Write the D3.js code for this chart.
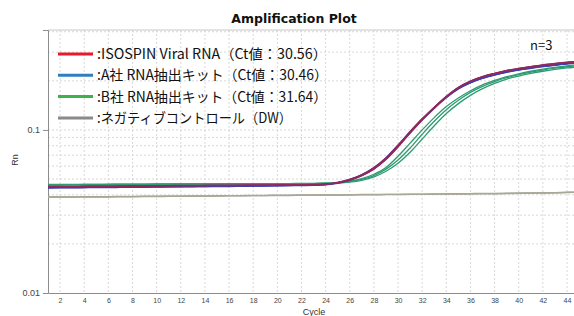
<!DOCTYPE html>
<html>
<head>
<meta charset="utf-8">
<script src="https://cdn.jsdelivr.net/npm/d3@7"></script>
<style>
  body { margin: 0; background: #fff; }
  svg { display: block; font-family: "Noto Sans CJK JP", "Noto Sans", sans-serif; }
</style>
</head>
<body>
<div id="chart"></div>
<script>
const svgWidth = 574;
const svgHeight = 316;

// cycles 1..45
const cycles = d3.range(1, 46);
const xTicks = d3.range(2, 46, 2);
const yTicks = [0.01, 0.1];

// ISOSPIN Viral RNA, 3 replicates
const redRep1 = [0.0450,0.0450,0.0451,0.0451,0.0452,0.0452,0.0453,0.0453,0.0454,0.0454,
  0.0455,0.0455,0.0456,0.0456,0.0457,0.0457,0.0458,0.0458,0.0459,0.0459,
  0.0460,0.0461,0.0462,0.0465,0.0475,0.0495,0.0528,0.0580,0.0665,0.0795,
  0.0965,0.1160,0.1370,0.1600,0.1820,0.1990,0.2120,0.2220,0.2310,0.2380,
  0.2440,0.2500,0.2550,0.2595,0.2630];
const redRep2 = [0.0452,0.0452,0.0452,0.0453,0.0453,0.0454,0.0454,0.0455,0.0455,0.0456,
  0.0456,0.0457,0.0457,0.0458,0.0458,0.0459,0.0459,0.0460,0.0460,0.0461,
  0.0461,0.0462,0.0463,0.0466,0.0477,0.0497,0.0531,0.0585,0.0672,0.0805,
  0.0975,0.1170,0.1380,0.1610,0.1828,0.1995,0.2125,0.2225,0.2315,0.2385,
  0.2445,0.2505,0.2555,0.2600,0.2636];
const redRep3 = [0.0448,0.0449,0.0449,0.0450,0.0450,0.0451,0.0451,0.0452,0.0452,0.0453,
  0.0453,0.0454,0.0454,0.0455,0.0455,0.0456,0.0456,0.0457,0.0457,0.0458,
  0.0459,0.0460,0.0461,0.0464,0.0473,0.0492,0.0524,0.0575,0.0658,0.0786,
  0.0955,0.1150,0.1360,0.1590,0.1810,0.1982,0.2112,0.2212,0.2302,0.2372,
  0.2432,0.2492,0.2542,0.2588,0.2622];

// A社 RNA抽出キット, 3 replicates
const blueRep1 = [0.0442,0.0443,0.0443,0.0444,0.0444,0.0445,0.0446,0.0446,0.0447,0.0448,
  0.0448,0.0449,0.0450,0.0450,0.0451,0.0452,0.0452,0.0453,0.0454,0.0455,
  0.0456,0.0457,0.0458,0.0462,0.0473,0.0494,0.0528,0.0582,0.0668,0.0798,
  0.0968,0.1160,0.1365,0.1585,0.1790,0.1950,0.2075,0.2175,0.2262,0.2332,
  0.2392,0.2450,0.2500,0.2545,0.2580];
const blueRep2 = [0.0444,0.0444,0.0445,0.0445,0.0446,0.0446,0.0447,0.0447,0.0448,0.0449,
  0.0449,0.0450,0.0451,0.0451,0.0452,0.0453,0.0453,0.0454,0.0455,0.0456,
  0.0457,0.0458,0.0459,0.0463,0.0475,0.0497,0.0532,0.0588,0.0676,0.0808,
  0.0978,0.1170,0.1375,0.1595,0.1800,0.1960,0.2085,0.2185,0.2272,0.2342,
  0.2402,0.2460,0.2510,0.2555,0.2590];
const blueRep3 = [0.0440,0.0441,0.0441,0.0442,0.0443,0.0443,0.0444,0.0445,0.0445,0.0446,
  0.0447,0.0447,0.0448,0.0449,0.0450,0.0450,0.0451,0.0452,0.0453,0.0454,
  0.0455,0.0456,0.0457,0.0461,0.0471,0.0491,0.0524,0.0577,0.0661,0.0790,
  0.0958,0.1150,0.1355,0.1575,0.1782,0.1942,0.2068,0.2168,0.2255,0.2325,
  0.2385,0.2443,0.2493,0.2538,0.2573];

// B社 RNA抽出キット, 3 replicates
const greenRep1 = [0.0462,0.0462,0.0462,0.0463,0.0463,0.0463,0.0464,0.0464,0.0464,0.0465,
  0.0465,0.0465,0.0466,0.0466,0.0466,0.0467,0.0467,0.0467,0.0468,0.0468,
  0.0468,0.0469,0.0469,0.0471,0.0476,0.0486,0.0503,0.0535,0.0588,0.0690,
  0.0830,0.1000,0.1190,0.1390,0.1570,0.1740,0.1890,0.2010,0.2120,0.2210,
  0.2290,0.2360,0.2420,0.2470,0.2510];
const greenRep2 = [0.0463,0.0463,0.0463,0.0464,0.0464,0.0464,0.0465,0.0465,0.0465,0.0466,
  0.0466,0.0466,0.0467,0.0467,0.0467,0.0468,0.0468,0.0468,0.0469,0.0469,
  0.0469,0.0470,0.0470,0.0471,0.0474,0.0482,0.0497,0.0525,0.0575,0.0655,
  0.0775,0.0940,0.1130,0.1330,0.1520,0.1700,0.1850,0.1980,0.2090,0.2180,
  0.2260,0.2330,0.2390,0.2440,0.2480];
const greenRep3 = [0.0461,0.0461,0.0462,0.0462,0.0462,0.0463,0.0463,0.0463,0.0464,0.0464,
  0.0464,0.0465,0.0465,0.0465,0.0466,0.0466,0.0466,0.0467,0.0467,0.0467,
  0.0468,0.0468,0.0469,0.0470,0.0472,0.0478,0.0491,0.0515,0.0558,0.0625,
  0.0730,0.0880,0.1060,0.1260,0.1450,0.1630,0.1790,0.1930,0.2050,0.2140,
  0.2220,0.2290,0.2350,0.2400,0.2440];

// ネガティブコントロール (DW), 3 replicates
const negRep1 = [0.0388,0.0388,0.0388,0.0389,0.0389,0.0389,0.0390,0.0390,0.0391,0.0391,
  0.0392,0.0392,0.0393,0.0393,0.0394,0.0395,0.0395,0.0396,0.0396,0.0397,
  0.0397,0.0398,0.0398,0.0399,0.0399,0.0400,0.0401,0.0401,0.0402,0.0402,
  0.0403,0.0403,0.0404,0.0405,0.0405,0.0406,0.0407,0.0407,0.0408,0.0409,
  0.0410,0.0411,0.0412,0.0414,0.0415];
const negRep2 = [0.0389,0.0389,0.0389,0.0390,0.0390,0.0390,0.0391,0.0391,0.0392,0.0392,
  0.0393,0.0393,0.0394,0.0394,0.0395,0.0396,0.0396,0.0397,0.0397,0.0398,
  0.0398,0.0399,0.0399,0.0400,0.0400,0.0401,0.0402,0.0402,0.0403,0.0403,
  0.0404,0.0404,0.0405,0.0406,0.0406,0.0407,0.0408,0.0408,0.0409,0.0410,
  0.0411,0.0412,0.0413,0.0415,0.0416];
const negRep3 = [0.0387,0.0387,0.0387,0.0388,0.0388,0.0388,0.0389,0.0389,0.0390,0.0390,
  0.0391,0.0391,0.0392,0.0392,0.0393,0.0394,0.0394,0.0395,0.0395,0.0396,
  0.0396,0.0397,0.0397,0.0398,0.0398,0.0399,0.0400,0.0400,0.0401,0.0401,
  0.0402,0.0402,0.0403,0.0404,0.0404,0.0405,0.0406,0.0406,0.0407,0.0408,
  0.0409,0.0410,0.0411,0.0413,0.0414];

const legendLabels = [
  ":ISOSPIN Viral RNA（Ct値：30.56）",
  ":A社 RNA抽出キット（Ct値：30.46）",
  ":B社 RNA抽出キット（Ct値：31.64）",
  ":ネガティブコントロール（DW）"
];
const legendColors = ["#e8192c", "#2f7ec2", "#3bb24a", "#8a8a8a"];
const legendWidths = [230, 231, 230, 195];

// plot colors (drawing order: negatives, green, blue, red)
const groups = [
  { color: "#a9a797", reps: [negRep1, negRep2, negRep3] },
  { color: "#2e9b72", reps: [greenRep1, greenRep2, greenRep3] },
  { color: "#3a3fb0", reps: [blueRep1, blueRep2, blueRep3] },
  { color: "#93285c", reps: [redRep1, redRep2, redRep3] }
];

const margin = { top: 30, right: 0, bottom: 23, left: 48 };
const height = svgHeight - margin.top - margin.bottom;

const svg = d3.select("#chart")
  .append("svg")
  .attr("width", svgWidth)
  .attr("height", svgHeight);

const x = d3.scaleLinear()
  .domain([1, 45])
  .range([margin.left, margin.left + 44 * 12.07]);

const y = d3.scaleLog()
  .domain([0.01, 0.41])
  .range([svgHeight - margin.bottom, margin.top]);

// title
svg.append("text")
  .attr("x", 294)
  .attr("y", 23)
  .attr("text-anchor", "middle")
  .style("font-family", "'DejaVu Sans', Verdana, sans-serif")
  .style("font-weight", "bold")
  .style("font-size", "12.5px")
  .style("fill", "#111")
  .text("Amplification Plot");

// grid
const minorY = [0.02,0.03,0.04,0.05,0.06,0.07,0.08,0.09,0.2,0.3,0.4];
const grid = svg.append("g");
grid.selectAll(".hg")
  .data(minorY.concat([0.1]))
  .enter()
  .append("line")
  .attr("x1", margin.left)
  .attr("x2", svgWidth)
  .attr("y1", d => y(d))
  .attr("y2", d => y(d))
  .attr("stroke", "#d8d8d8")
  .attr("stroke-dasharray", "2,2");
grid.selectAll(".vg")
  .data(xTicks)
  .enter()
  .append("line")
  .attr("x1", d => x(d))
  .attr("x2", d => x(d))
  .attr("y1", margin.top)
  .attr("y2", svgHeight - margin.bottom)
  .attr("stroke", "#d8d8d8")
  .attr("stroke-dasharray", "2,2");

// frame
svg.append("line")
  .attr("x1", margin.left).attr("x2", svgWidth)
  .attr("y1", margin.top).attr("y2", margin.top)
  .attr("stroke", "#c8c8c8");

// axes
const xAxis = svg.append("g")
  .attr("transform", `translate(0, ${svgHeight - margin.bottom})`)
  .call(d3.axisBottom(x).tickValues(xTicks).tickSize(0).tickPadding(5));
const yAxis = svg.append("g")
  .attr("transform", `translate(${margin.left}, 0)`)
  .call(d3.axisLeft(y).tickValues(yTicks).tickFormat(d => d === 0.1 ? "0.1" : "0.01").tickSize(5).tickPadding(3));

[xAxis, yAxis].forEach(a => {
  a.select(".domain").attr("stroke", "#8c8c8c");
  a.selectAll(".tick line").attr("stroke", "#8c8c8c");
  a.selectAll("text")
    .style("font-family", "'Liberation Sans', Arial, sans-serif")
    .style("fill", "#444");
});
xAxis.selectAll("text").style("font-size", "7px");
yAxis.selectAll("text").style("font-size", "9px");

// axis labels
svg.append("text")
  .attr("transform", "rotate(-90)")
  .attr("x", -160)
  .attr("y", 18)
  .attr("text-anchor", "middle")
  .style("font-family", "'Liberation Sans', Arial, sans-serif")
  .style("font-size", "9px")
  .style("fill", "#333")
  .text("Rn");

svg.append("text")
  .attr("x", 314)
  .attr("y", 314.5)
  .attr("text-anchor", "middle")
  .style("font-family", "'Liberation Sans', Arial, sans-serif")
  .style("font-size", "9px")
  .style("fill", "#333")
  .text("Cycle");

// curves
svg.append("clipPath")
  .attr("id", "plotclip")
  .append("rect")
  .attr("x", margin.left)
  .attr("y", margin.top)
  .attr("width", svgWidth - margin.left)
  .attr("height", height);

const line = d3.line()
  .x((d, i) => x(cycles[i]))
  .y(d => y(d))
  .curve(d3.curveMonotoneX);

const curves = svg.append("g").attr("clip-path", "url(#plotclip)");
groups.forEach(g => {
  curves.selectAll(null)
    .data(g.reps)
    .enter()
    .append("path")
    .attr("d", line)
    .attr("fill", "none")
    .attr("stroke", g.color)
    .attr("stroke-width", 1.3);
});

// legend
const legend = svg.append("g");
legendLabels.forEach((label, i) => {
  const ly = 54 + i * 21.3;
  legend.append("line")
    .attr("x1", 58).attr("x2", 93)
    .attr("y1", ly).attr("y2", ly)
    .attr("stroke", legendColors[i])
    .attr("stroke-width", 3);
  legend.append("text")
    .attr("x", 97)
    .attr("y", ly + 5)
    .attr("textLength", legendWidths[i])
    .attr("lengthAdjust", "spacingAndGlyphs")
    .style("font-size", "14px")
    .style("fill", "#111")
    .text(label);
});

svg.append("text")
  .attr("x", 530)
  .attr("y", 50)
  .style("font-size", "13px")
  .style("fill", "#111")
  .text("n=3");
</script>
</body>
</html>
